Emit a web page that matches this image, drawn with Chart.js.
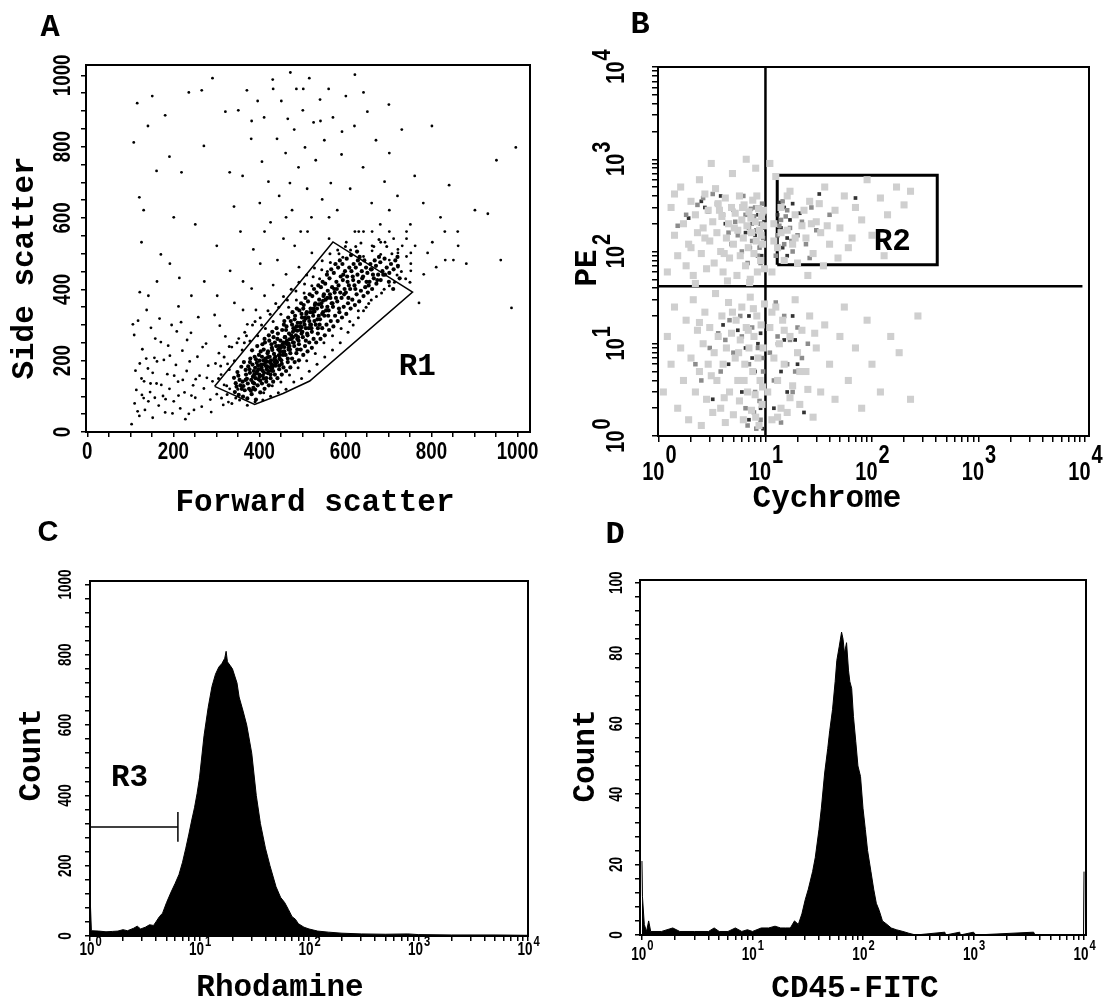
<!DOCTYPE html>
<html>
<head>
<meta charset="utf-8">
<script src="https://cdn.jsdelivr.net/npm/chart.js@4.4.1/dist/chart.umd.min.js"></script>
<style>
  html, body { margin: 0; padding: 0; background: #fff; }
  body { width: 1107px; height: 999px; position: relative; overflow: hidden; }
  canvas { position: absolute; }
</style>
</head>
<body>
<canvas id="panelA" width="553" height="520" style="left:0;top:0"></canvas>
<canvas id="panelB" width="554" height="520" style="left:553px;top:0"></canvas>
<canvas id="panelC" width="553" height="499" style="left:0;top:500px"></canvas>
<canvas id="panelD" width="554" height="499" style="left:553px;top:500px"></canvas>
<script>
// ---------- Panel A: forward / side scatter events ----------
const fscLabels = [0, 200, 400, 600, 800, 1000];
const sscLabels = [0, 200, 400, 600, 800, 1000];

const coreEvents = [
  [343,112],[347,127],[341,152],[349,168],[345,137],
  [352,104],[356,131],[351,158],[358,183],[354,146],[359,121],
  [362,99],[366,117],[361,141],[368,174],[364,196],[369,161],[363,129],
  [372,94],[376,121],[371,149],[378,166],[374,184],[379,206],[373,136],[377,176],
  [382,106],[386,124],[381,146],[388,161],[384,189],[389,211],[383,229],[387,171],[385,139],[380,116],
  [392,91],[396,131],[391,151],[398,176],[394,194],[399,216],[393,164],[397,186],[395,241],[390,119],[392,204],
  [402,111],[406,136],[401,156],[408,171],[404,189],[409,201],[403,226],[407,246],[405,181],[400,161],[406,211],[402,144],
  [412,121],[416,141],[411,166],[418,184],[414,206],[419,221],[413,251],[417,176],[415,196],[410,231],[416,151],[412,261],
  [422,131],[426,151],[421,171],[428,189],[424,211],[429,236],[423,256],[427,201],[425,181],[420,226],[426,161],[422,271],[428,246],
  [432,141],[436,161],[431,186],[438,201],[434,219],[439,241],[433,266],[437,211],[435,196],[430,281],[436,251],[432,171],
  [442,151],[446,176],[441,196],[448,216],[444,231],[449,256],[443,276],[447,206],[445,241],[440,291],[446,186],[442,261],[448,226],
  [452,161],[456,181],[451,201],[458,226],[454,246],[459,266],[453,286],[457,301],[455,216],[450,236],[456,251],[452,191],[458,311],
  [462,171],[466,196],[461,216],[468,236],[464,256],[469,276],[463,296],[467,321],[465,246],[460,266],[466,206],[462,286],[468,231],
  [472,181],[476,206],[471,231],[478,251],[474,271],[479,291],[473,311],[477,336],[475,261],[470,241],[476,301],[472,221],[478,281],
  [482,196],[486,221],[481,241],[488,261],[484,286],[489,306],[483,326],[487,346],[485,271],[480,251],[486,296],[482,316],[488,231],
  [492,201],[496,231],[491,256],[498,276],[494,296],[499,321],[493,341],[497,361],[495,286],[490,266],[496,306],[492,246],[498,331],
  [502,216],[506,241],[501,266],[508,291],[504,311],[509,331],[503,356],[507,376],[505,301],[500,281],[506,321],[502,346],[508,256],
  [512,226],[516,251],[511,276],[518,301],[514,321],[519,346],[513,366],[517,386],[515,291],[510,336],[516,311],[512,271],
  [522,236],[526,261],[521,291],[528,311],[524,336],[529,356],[523,381],[527,401],[525,326],[520,301],[526,346],[522,281],
  [532,251],[536,276],[531,301],[538,326],[534,346],[539,371],[533,391],[537,411],[535,316],[530,361],[536,291],
  [542,261],[546,291],[541,316],[548,336],[544,361],[549,381],[543,406],[547,421],[545,351],[540,301],[546,331],
  [552,271],[556,301],[551,326],[558,351],[554,371],[559,396],[553,416],[557,441],[555,341],[550,386],
  [562,286],[566,311],[561,341],[568,361],[564,386],[569,406],[563,431],[567,456],[565,376],[560,326],
  [572,296],[576,326],[571,351],[578,376],[574,401],[579,421],[573,446],[577,471],[575,391],[570,361],
  [582,311],[586,336],[581,366],[588,391],[584,411],[589,436],[583,461],[587,481],[585,346],[580,401],
  [592,321],[596,351],[591,376],[598,401],[594,426],[599,451],[593,471],[597,386],[595,441],
  [602,331],[606,361],[601,391],[608,411],[604,436],[609,461],[603,486],[607,376],[605,421],
  [612,346],[616,371],[611,401],[618,426],[614,451],[619,471],[613,496],[617,436],
  [622,356],[626,386],[621,411],[628,441],[624,461],[629,481],[623,401],[627,506],
  [632,366],[636,396],[631,421],[638,451],[634,471],[639,431],[633,491],
  [642,381],[646,406],[641,436],[648,461],[644,481],[649,421],
  [652,391],[656,421],[651,446],[658,471],[654,411],[659,456],
  [662,401],[666,431],[661,456],[668,481],[664,441],
  [672,416],[676,441],[671,466],[678,491],[674,426],
  [682,426],[686,451],[681,476],[688,441],
  [692,441],[696,461],[691,486],
  [702,446],[706,471],[701,421],
  [712,456],[716,481],[711,401],
  [722,466],[726,431],[721,491],
  [395,170],[405,175],[415,185],[425,195],[435,205],[445,215],[455,225],[410,150],[420,165],[430,180],
  [440,195],[400,200],[390,180],[385,155],[450,240],[460,250],[470,260],[420,210],[430,230],[410,190],
  [398,148],[408,158],[418,198],[428,172],[438,186],[448,204],[458,238],[468,248],[478,266],[488,284],
  [498,294],[508,318],[518,336],[528,338],[538,358],[548,368],[558,376],[368,146],[378,196],[388,136]
];

const haloEvents = [
  [305,150],[312,95],[318,210],[324,130],[330,175],[336,80],[342,200],[348,250],[354,90],[360,230],[366,280],
  [372,75],[378,255],[384,300],[390,85],[396,270],[402,320],[408,90],[414,290],[420,340],[426,100],[432,310],
  [438,360],[444,110],[450,330],[456,380],[462,120],[468,350],[474,400],[480,140],[486,370],[492,420],[498,150],
  [504,390],[510,440],[516,170],[522,410],[528,460],[534,190],[540,430],[546,480],[552,210],[558,450],[564,500],
  [570,230],[576,470],[582,510],[588,250],[594,490],[600,520],[606,280],[612,510],[618,300],[624,520],[630,320],
  [636,530],[642,340],[648,350],[654,360],[660,370],[666,520],[672,380],[678,540],[684,390],[690,400],[696,520],
  [702,410],[708,500],[714,420],[720,440],[730,450],[740,430],[750,420],[310,185],[330,240],[350,120],[370,270],
  [390,310],[410,110],[430,130],[450,140],[470,160],[490,180],[510,200],[530,220],[550,250],[570,270],[590,290],
  [610,310],[630,340],[325,105],[345,95],[365,250],[385,120],[405,300],[425,330],[445,350],[465,370],[485,395],
  [505,415],[525,435],[545,455],[565,475],[585,500]
];

const sparseEvents = [
  [103,22],[110,80],[114,118],[121,45],[126,150],[131,95],[134,62],[141,178],[146,112],[152,40],[156,208],
  [161,136],[166,74],[171,252],[176,101],[181,55],[186,162],[191,121],[196,300],[201,86],[206,188],[211,141],
  [216,66],[221,228],[226,111],[231,171],[236,51],[241,278],[246,131],[251,96],[256,211],[261,158],[266,71],
  [271,122],[276,248],[281,186],[286,91],[291,142],[296,328],[301,106],[306,221],[311,161],[316,76],[321,268],
  [326,191],[331,121],[336,238],
  [109,272],[118,312],[128,232],[138,342],[148,292],[158,262],[168,318],[178,202],[188,242],[198,52],[208,282],
  [218,308],[228,36],[238,198],[248,62],[258,322],[268,238],[278,152],[288,56],[298,192],[308,298],[318,132],[328,84],
  [122,192],[132,142],[142,86],[152,166],[162,198],[172,132],[182,92],[192,214],[202,158],[212,102],[222,146],
  [232,258],[242,102],[252,148],[112,172],[117,58],[127,104],[137,206],[147,136],[157,96],
  [108,812],[116,922],[121,658],[126,532],[131,622],[141,858],[151,942],[161,732],[171,498],[181,888],[191,772],
  [201,602],[214,432],[219,728],[236,952],[251,582],[266,958],[271,802],[291,992],[301,522],[321,898],[331,728],
  [341,632],[351,902],[356,562],[361,718],[371,958],[381,822],[386,512],[396,928],[401,642],[406,758],[411,882],
  [421,702],[426,588],[431,988],[441,822],[446,662],[451,928],[456,542],[461,782],[466,878],[471,698],[476,622],
  [481,848],[486,962],[491,742],[496,562],[501,902],[506,798],[511,682],[516,992],[521,602],[526,868],[531,762],
  [541,932],[546,652],[551,818],[561,962],[566,698],[571,882],[581,622],[591,778],[601,942],[611,682],[621,858],
  [631,562],[641,742],[651,898],[661,642],[671,818],[681,582],[691,702],[701,918],[721,662],[731,848],[751,582],
  [761,718],[781,642],[801,858],[821,602],[841,692],[861,562],[881,472],[901,622],[931,612],[951,762],[961,482],
  [986,348],[996,798],
  [771,362],[791,502],[811,462],[831,562],[851,482],[702,622],[742,542],[662,522],[622,562],[562,602],[522,502],
  [482,522],[442,482],[402,472],[362,422],[332,452],[302,382],[272,422],[242,382],[212,352],[192,472],[162,422],
  [142,382],[122,392],[106,302],[622,1002],[472,1008],[432,962],[382,872],[502,962],[542,872],[592,842],[642,952],
  [702,782],[412,562],[462,602],[512,562],[562,542],[602,532],[642,562],[682,532],[722,502],[752,472],[782,442],
  [802,532],[832,482],[862,522],
  [642,492],[662,508],[682,498],[702,482],[722,512],[742,492],[692,532],[712,542],[732,522],[752,502],[662,562],
  [702,562],[742,562],[762,522],[722,462],[752,452],[352,262],[372,302],[392,342],[412,382],[432,412],[462,442],
  [492,462],[362,342],[382,402],[342,362]
];

const r1Gate = [[296,128],[389,77],[455,108],[517,143],[756,392],[571,533],[296,128]];
const r1Text = [767, 181];

// ---------- Panel B: Cychrome / PE ----------
const decades = [1, 10, 100, 1000, 10000];
const bLight = [
  [1.2,60],[1.3,300],[1.4,150],[1.5,90],[1.6,500],[1.7,200],[1.8,70],[1.9,120],[2.0,350],[2.1,55],[2.2,250],
  [2.3,160],[2.4,600],[2.5,95],[2.6,180],[2.7,420],[2.8,65],[2.9,280],[3.0,130],[3.2,210],[3.3,75],[3.4,480],
  [3.5,160],[3.6,330],[3.8,100],[3.9,240],[4.0,60],[4.2,380],[4.3,140],[4.5,200],[4.6,85],[4.8,300],[4.9,700],
  [5.0,120],[5.2,260],[5.4,55],[5.5,170],[5.7,400],[5.8,90],[6.0,220],[6.2,140],[6.3,320],[6.5,70],[6.7,190],
  [6.9,110],[7.0,270],[7.2,50],[7.4,160],[7.6,360],[7.8,95],[8.0,210],[8.2,130],[8.4,60],[8.6,290],[8.8,170],
  [9.0,80],[9.2,240],[9.4,120],[9.6,190],[9.8,65],[3.1,900],[6.6,1000],[8.1,800],[2.2,45],[4.4,48],[7.1,46],
  [1.4,420],[2.0,110],[2.7,140],[3.7,280],[4.1,95],[5.1,180],[6.1,300],[7.3,230],[8.3,400],[9.1,150],[9.6,280],
  [11.5,60],[12,200],[13,110],[14,300],[15,80],[16,170],[17,450],[18,120],[19,250],[20,75],[22,190],[24,140],
  [26,350],[28,95],[30,210],[33,160],[36,500],[40,120],[45,280],[50,180],[55,400],[60,110],[70,300],[80,220],
  [90,600],[100,150],[120,380],[140,250],[170,500],[200,320],[230,450],[12.5,650],[11,900],[25,55],[35,70],
  [48,85],[65,140],[130,90],[12,130],[14,160],[16,400],[19,140],[23,280],[27,200],[32,330],[38,190],
  [1.1,3],[1.2,12],[1.3,6],[1.4,25],[1.5,2],[1.6,9],[1.7,4],[1.8,18],[1.9,1.5],[2.0,7],[2.1,30],[2.2,3],
  [2.3,14],[2.4,5],[2.5,1.3],[2.6,10],[2.7,22],[2.8,2.5],[2.9,6],[3.0,15],[3.2,1.8],[3.3,8],[3.4,35],[3.5,4],
  [3.6,12],[3.8,2],[3.9,20],[4.0,6],[4.2,1.4],[4.3,9],[4.5,28],[4.6,3],[4.8,13],[5.0,1.7],[5.2,7],[5.3,18],
  [5.5,4],[5.7,2.4],[5.8,11],[6.0,25],[6.2,1.5],[6.4,6],[6.6,15],[6.8,3],[7.0,9],[7.2,32],[7.4,1.9],[7.6,5],
  [7.8,12],[8.0,2.8],[8.3,20],[8.5,7],[8.7,1.3],[8.9,4],[9.1,16],[9.3,2.2],[9.5,9],[9.8,27],
  [2.4,17],[3.1,4.5],[4.1,2.6],[5.6,8],[6.9,14],[8.1,1.6],[9.4,3.4],[7.7,24],[6.3,4],[4.9,22],
  [10.5,3],[11,15],[11.5,1.5],[12,7],[12.5,25],[13,4],[13.5,10],[14,2],[14.5,18],[15,6],[16,1.8],[17,12],
  [18,3.5],[19,30],[20,8],[21,2.2],[22,14],[24,5],[26,20],[28,1.6],[30,9],[33,3],[36,16],[40,6],[45,2.5],
  [50,12],[55,25],[60,4],[70,9],[80,2],[90,18],[100,6],[120,3],[150,12],[180,8],[230,2.5],[270,20],
  [11.5,22],[13,1.6],[15,14],[17,2.6],[21,5],[25,3.2],[29,13]
];
const bMid = [
  [5.5,150],[6,100],[6.5,250],[7,180],[7.5,130],[8,300],[8.5,90],[9,200],[9.5,140],[7.8,240],[8.8,110],
  [6.8,75],[9.3,330],[5.2,210],[2.3,320],[2.6,380],[2.9,270],[3.2,420],[4,250],[4.5,160],[3.5,330],[1.8,250],
  [1.5,190],[4.8,120],[6.2,400],[8.2,170],[9.7,260],[7.3,290],[9.0,75],
  [13,150],[14,220],[15,120],[16,280],[17,180],[18,100],[19,250],[20,150],[22,210],[24,120],[27,300],[30,170],
  [14.5,350],[12.5,90],[26,85],[40,250],[13.5,190],[15.5,240],[17.5,130],
  [5,8],[5.5,4],[6,12],[6.5,2],[7,6],[7.5,15],[8,3],[8.5,9],[9,1.5],[9.5,5],[6.8,1.3],[8.2,1.2],[4.2,11],
  [3.8,5],[3,9],[2.5,4],[4.6,18],[3.6,13],[2.2,6],[5.8,20],[8.8,2.4],[9.3,7],[7.8,1.8],
  [11,8],[12,4],[13,12],[14,2],[15,20],[16,6],[17,11],[18,3],[20,15],[22,7],[25,10],[12.5,28],[14,1.4],[19,5]
];
const bDark = [
  [7.5,200],[8,150],[8.5,250],[9,120],[9.5,180],[8.7,300],[9.2,90],[7.2,110],[6.5,160],[2.5,350],[2.7,300],
  [3.8,400],[5,280],[9.7,220],[4.2,200],[1.9,230],
  [13,250],[14,180],[15,300],[16,140],[17,220],[14.5,110],[18,330],[21,260],[13.5,340],[16,90],[32,420],[70,380],
  [6,3],[7,1.5],[8,5],[9,2],[8.5,10],[7.5,7],[9.5,1.2],[6.5,9],[4.5,6],[5.5,14],[3.2,2.5],[4,16],[7,20],[9,13],
  [13,10],[15,11],[17,11],[19,11],[14,5],[16,3],[12,2],[20,6],[18,20],[23,1.8]
];
const cyGate = [[10,1],[10,10000]];
const peGate = [[0.98,42],[9460,42]];
const r2Gate = [[12.9,72],[410,72],[410,670],[12.9,670],[12.9,72]];
const r2Text = [155, 125];

// ---------- Panel C: Rhodamine histogram ----------
const countLabelsC = [0, 200, 400, 600, 800, 1000];
const rhodamine = [1, 1.03, 1.2, 1.4, 1.6, 1.8, 2.0, 2.2, 2.5, 2.7, 2.9, 3.2, 3.5, 3.8, 4.0, 4.3, 4.6, 5.0, 5.5,
  6.0, 6.5, 7.0, 7.5, 8.0, 8.5, 9.0, 9.5, 10, 11, 12, 13, 14, 15, 16, 17, 17.5, 18, 19, 20, 22, 23, 25, 27, 30,
  33, 36, 40, 44, 50, 55, 60, 65, 70, 75, 80, 90, 100, 120, 150, 200, 300, 500, 800, 1000, 2000, 5000, 10000];
const rhoCount = [120, 15, 14, 12, 13, 14, 18, 15, 22, 28, 20, 25, 32, 30, 40, 55, 65, 95, 125,
  150, 175, 210, 250, 290, 330, 365, 405, 450, 570, 650, 710, 745, 765, 775, 790, 810, 780, 770, 760, 720, 680, 640, 600, 520,
  400, 320, 250, 200, 140, 110, 95, 75, 55, 48, 35, 25, 20, 14, 11, 8, 6, 5, 6, 4, 3, 3, 2];
const r3Marker = [1, 6.35, 310];
const r3Bar = [268, 353];
const r3Text = [2.3, 449];

// ---------- Panel D: CD45-FITC histogram ----------
const countLabelsD = [0, 20, 40, 60, 80, 100];
const cd45 = [1, 1.01, 1.05, 1.1, 1.15, 1.2, 1.5, 1.9, 2.2, 3, 4, 4.5, 5, 6, 7, 8, 9, 10, 12, 14, 16, 18, 20, 22,
  24, 26, 28, 30, 32, 35, 37, 40, 42, 45, 48, 50, 53, 56, 58, 61, 64, 66, 68, 71, 74, 76, 79, 82, 86, 90, 95, 100,
  105, 110, 118, 125, 132, 140, 150, 165, 180, 200, 230, 260, 300, 550, 560, 750, 760, 1000, 1050, 3500, 3600,
  9900, 10000];
const cd45Count = [21, 11, 3, 1, 4, 1, 1, 2, 1, 1, 1, 2, 1, 1, 2, 1, 1.5, 1, 2, 2, 2.5, 2, 2, 2,
  4, 3, 6, 10, 13, 18, 22, 30, 36, 46, 53, 58, 64, 72, 78, 82, 86, 84, 80, 83, 75, 72, 70, 62, 55, 48, 45, 36,
  30, 24, 18, 13, 9, 7, 4, 3, 2, 1.5, 1, 0.5, 0, 0.8, 0, 0.8, 0, 0.8, 0, 0.8, 0,
  0, 18];

// ---------- helpers ----------
const MONO = '"Liberation Mono", "Courier New", monospace';
const SANS = '"Liberation Sans", Arial, sans-serif';
const TITLE = {font: 'bold 31px ' + MONO, sx: 1};
const LETTER = {font: 'bold 32px ' + MONO, sx: 1};
const TICK_A = {font: 'bold 24px ' + SANS, sx: 0.78};
const TICK_B = {font: 'bold 25px ' + SANS, sx: 0.8};
const TICK_S = {font: 'bold 18px ' + SANS, sx: 0.75};
const SUP_S = {font: 'bold 14px ' + SANS, sx: 0.8};

const pts = arr => arr.map(([x, y]) => ({x, y}));
const zip = (xs, ys) => xs.map((x, i) => ({x, y: ys[i]}));

function linTicks(max, step) {
  const t = [];
  for (let v = 0; v <= max; v += step) t.push(v);
  return t;
}

function logTicks(decs) {
  const t = [];
  decs.slice(0, -1).forEach(d => { for (let m = 1; m < 10; m++) t.push(m * d); });
  t.push(decs[decs.length - 1]);
  return t;
}

function axis(type, min, max, ticks, size, tickLength) {
  return {
    type, min, max,
    border: {display: false},
    grid: {drawOnChartArea: false, drawTicks: true, tickLength, color: '#000', lineWidth: 1.5},
    ticks: {display: false},
    afterBuildTicks: s => { s.ticks = ticks.map(v => ({value: v})); },
    afterFit: s => { if (s.isHorizontal()) s.height = size; else s.width = size; }
  };
}

function label(ctx, str, x, y, style, rot) {
  ctx.save();
  ctx.translate(x, y);
  if (rot) ctx.rotate(-Math.PI / 2);
  ctx.scale(style.sx, 1);
  ctx.font = style.font;
  ctx.fillStyle = '#000';
  ctx.textAlign = 'center';
  ctx.textBaseline = 'middle';
  ctx.fillText(str, 0, 0);
  ctx.restore();
}

// "10" with a raised exponent, centred on (x, y)
function powLabel(ctx, exp, x, y, base, sup, raise, rot) {
  ctx.save();
  ctx.translate(x, y);
  if (rot) ctx.rotate(-Math.PI / 2);
  ctx.font = base.font;
  const wb = ctx.measureText('10').width * base.sx;
  ctx.font = sup.font;
  const ws = ctx.measureText(String(exp)).width * sup.sx;
  const x0 = -(wb + ws) / 2;
  ctx.fillStyle = '#000';
  ctx.textAlign = 'left';
  ctx.textBaseline = 'middle';
  ctx.save();
  ctx.translate(x0, 0); ctx.scale(base.sx, 1); ctx.font = base.font;
  ctx.fillText('10', 0, 0);
  ctx.restore();
  ctx.save();
  ctx.translate(x0 + wb + 1, -raise); ctx.scale(sup.sx, 1); ctx.font = sup.font;
  ctx.fillText(String(exp), 0, 0);
  ctx.restore();
  ctx.restore();
}

function frame(chart) {
  const {ctx, chartArea: a} = chart;
  ctx.save();
  ctx.strokeStyle = '#000';
  ctx.lineWidth = 2;
  ctx.strokeRect(a.left, a.top, a.right - a.left, a.bottom - a.top);
  ctx.restore();
}

function gateLine(data, width) {
  return {data: pts(data), showLine: true, fill: false, pointRadius: 0,
          borderColor: '#000', borderWidth: width, backgroundColor: '#000'};
}

function dots(data, color, r, style) {
  return {data: pts(data), pointRadius: r, pointStyle: style, pointBorderWidth: 0,
          backgroundColor: color, borderColor: color};
}

function makeChart(id, type, datasets, scales, padding, draw) {
  return new Chart(document.getElementById(id), {
    type,
    data: {datasets},
    options: {
      responsive: false,
      animation: false,
      events: [],
      layout: {padding},
      plugins: {legend: {display: false}, tooltip: {enabled: false}},
      scales
    },
    plugins: [{id: 'decor', afterDraw: chart => { frame(chart); draw(chart); }}]
  });
}

// ---------- A ----------
makeChart('panelA', 'scatter', [
  dots(sparseEvents, '#000', 1.4, 'circle'),
  dots(haloEvents, '#000', 1.5, 'circle'),
  dots(coreEvents, '#000', 2.1, 'circle'),
  gateLine(r1Gate, 1.5)
], {
  x: axis('linear', -3, 1029, linTicks(1000, 50), 88, 5),
  y: axis('linear', 0, 1029, linTicks(1000, 50), 86, 5)
}, {left: 0, top: 65, right: 23, bottom: 0}, chart => {
  const {ctx, scales: {x, y}} = chart;
  fscLabels.forEach(v => label(ctx, String(v), x.getPixelForValue(v), 452, TICK_A));
  sscLabels.forEach(v => label(ctx, String(v), 63, y.getPixelForValue(v), TICK_A, true));
  label(ctx, 'A', 50, 28, LETTER);
  label(ctx, 'Side scatter', 25, 268, TITLE, true);
  label(ctx, 'Forward scatter', 315, 503, TITLE);
  label(ctx, 'R1', x.getPixelForValue(r1Text[0]), y.getPixelForValue(r1Text[1]), TITLE);
});

// ---------- B ----------
makeChart('panelB', 'scatter', [
  dots(bLight, '#cfcfcf', 5, 'rect'),
  dots(bMid, '#8c8c8c', 3.2, 'rect'),
  dots(bDark, '#333', 2.6, 'rect'),
  gateLine(cyGate, 2.5),
  gateLine(peGate, 2.5),
  gateLine(r2Gate, 3)
], {
  x: axis('logarithmic', 0.98, 10900, logTicks(decades), 84, 6),
  y: axis('logarithmic', 1, 10000, logTicks(decades), 105, 6)
}, {left: 0, top: 67, right: 18, bottom: 0}, chart => {
  const {ctx, scales: {x, y}} = chart;
  decades.forEach((d, k) => powLabel(ctx, k, x.getPixelForValue(d), 473, TICK_B, TICK_B, 17));
  decades.forEach((d, k) => powLabel(ctx, k, 64, y.getPixelForValue(d), TICK_B, TICK_B, 14, true));
  label(ctx, 'B', 87, 25, LETTER);
  label(ctx, 'PE', 35, 268, TITLE, true);
  label(ctx, 'Cychrome', 274, 499, TITLE);
  label(ctx, 'R2', x.getPixelForValue(r2Text[0]), y.getPixelForValue(r2Text[1]), TITLE);
});

// ---------- C ----------
makeChart('panelC', 'line', [
  {data: zip(rhodamine, rhoCount), borderColor: '#000', borderWidth: 1, backgroundColor: '#000',
   fill: 'origin', pointRadius: 0, tension: 0},
  gateLine([[r3Marker[0], r3Marker[2]], [r3Marker[1], r3Marker[2]]], 1.5),
  gateLine([[r3Marker[0], r3Bar[0]], [r3Marker[0], r3Bar[1]]], 1.5),
  gateLine([[r3Marker[1], r3Bar[0]], [r3Marker[1], r3Bar[1]]], 1.5)
], {
  x: axis('logarithmic', 1, 10000, logTicks(decades), 63, 5),
  y: axis('linear', 0, 1010, linTicks(1000, 40), 90, 5)
}, {left: 0, top: 81, right: 25, bottom: 0}, chart => {
  const {ctx, scales: {x, y}} = chart;
  decades.forEach((d, k) => powLabel(ctx, k, x.getPixelForValue(d), 450, TICK_S, SUP_S, 8));
  countLabelsC.forEach(v => label(ctx, String(v), 66, y.getPixelForValue(v), TICK_S, true));
  label(ctx, 'C', 48, 33, {font: 'bold 29px ' + SANS, sx: 1});
  label(ctx, 'Count', 32, 255, TITLE, true);
  label(ctx, 'Rhodamine', 280, 488, TITLE);
  label(ctx, 'R3', x.getPixelForValue(r3Text[0]), y.getPixelForValue(r3Text[1]), TITLE);
});

// ---------- D ----------
makeChart('panelD', 'line', [
  {data: zip(cd45, cd45Count), borderColor: '#000', borderWidth: 1, backgroundColor: '#000',
   fill: 'origin', pointRadius: 0, tension: 0}
], {
  x: axis('logarithmic', 0.96, 10420, logTicks(decades), 64, 5),
  y: axis('linear', 0, 100.8, linTicks(100, 4), 87, 5)
}, {left: 0, top: 80, right: 21, bottom: 0}, chart => {
  const {ctx, scales: {x, y}} = chart;
  decades.forEach((d, k) => powLabel(ctx, k, x.getPixelForValue(d), 455, TICK_S, SUP_S, 9));
  countLabelsD.forEach(v => label(ctx, String(v), 64, y.getPixelForValue(v), TICK_S, true));
  label(ctx, 'D', 62, 35, LETTER);
  label(ctx, 'Count', 33, 256, TITLE, true);
  label(ctx, 'CD45-FITC', 302, 489, TITLE);
});
</script>
</body>
</html>
